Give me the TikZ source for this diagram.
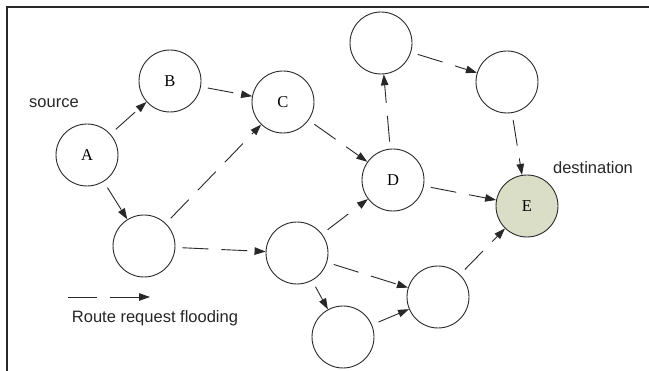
\documentclass[tikz,border=0pt]{standalone}
\usepackage{fontspec}
\setmainfont{Liberation Serif}
\setsansfont{Liberation Sans}
\usetikzlibrary{arrows.meta}
\definecolor{efill}{RGB}{218,222,198}
\definecolor{lineg}{RGB}{40,40,40}
\tikzset{
  nd/.style={circle,draw=lineg,line width=0.9pt,minimum size=62pt,inner sep=0pt,font=\fontsize{16.5}{18}\selectfont},
  fl/.style={draw=lineg,line width=0.9pt,dash pattern=on 26pt off 13pt,shorten <=7pt,-{Triangle[length=11pt,width=7.5pt]}},
  lbl/.style={font=\sffamily\fontsize{16.5}{18}\selectfont,inner sep=0pt,text=black!85}
}
\begin{document}
\begin{tikzpicture}[x=1pt,y=-1pt]
\useasboundingbox (0,0) rectangle (649,371);
\draw[lineg,line width=1.2pt] (7,371) -- (7,7) -- (649,7);
\node[nd] (A) at (87,155) {A};
\node[nd] (B) at (170,81) {B};
\node[nd] (C) at (283,102) {C};
\node[nd] (F) at (144,246) {};
\node[nd] (G) at (297,253) {};
\node[nd] (H) at (343,337) {};
\node[nd] (D) at (393,180) {D};
\node[nd] (I) at (381,43) {};
\node[nd] (J) at (507,82) {};
\node[nd,fill=efill] (E) at (527,206) {E};
\node[nd] (K) at (438,297) {};
\draw[fl] (A) -- (B);
\draw[fl] (A) -- (F);
\draw[fl] (B) -- (C);
\draw[fl] (F) -- (C);
\draw[fl] (F) -- (G);
\draw[fl] (C) -- (D);
\draw[fl] (G) -- (D);
\draw[fl] (G) -- (K);
\draw[fl] (G) -- (H);
\draw[fl] (H) -- (K);
\draw[fl] (D) -- (I);
\draw[fl] (I) -- (J);
\draw[fl] (J) -- (E);
\draw[fl] (D) -- (E);
\draw[fl] (K) -- (E);
\node[lbl] (src) at (54,103) {source};
\node[lbl] (dst) at (593,168) {destination};
\node[lbl] (leg) at (155,318) {Route request flooding};
\coordinate (l1) at (68,297);
\coordinate (l2) at (150,297);
\draw[fl,shorten <=0pt,dash pattern=on 29pt off 13pt] (l1) -- (l2);
\end{tikzpicture}
\end{document}
